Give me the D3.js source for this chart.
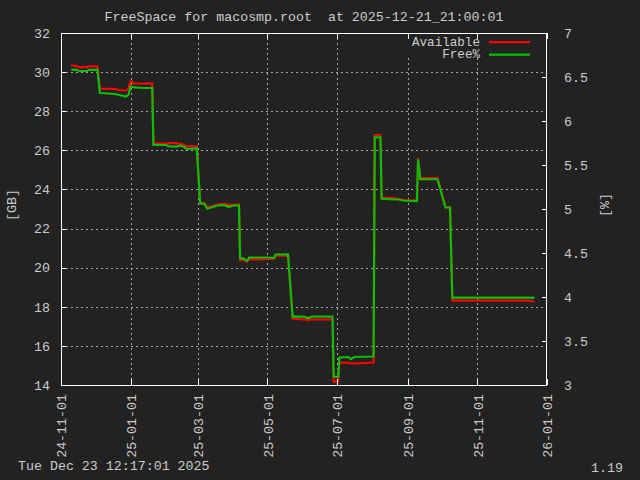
<!DOCTYPE html>
<html><head><meta charset="utf-8">
<script src="https://cdn.jsdelivr.net/npm/d3@7"></script>
<style>
html,body{margin:0;padding:0;background:#222222;}
svg{display:block;}
text{font-family:"Liberation Mono","DejaVu Sans Mono",monospace;font-size:13.3px;fill:#cccccc;white-space:pre;}
</style></head>
<body>
<script>
const titleText = "FreeSpace for macosmp.root  at 2025-12-21_21:00:01";
const footerLeft = "Tue Dec 23 12:17:01 2025";
const footerRight = "1.19";
const seriesNames = ["Available", "Free%"];
const dates = ["2024-11-10","2024-11-15","2024-11-17","2024-11-24","2024-11-25","2024-12-03","2024-12-05","2024-12-06","2024-12-18","2024-12-22","2024-12-28","2024-12-30","2025-01-01","2025-01-03","2025-01-04","2025-01-13","2025-01-20","2025-01-21","2025-02-01","2025-02-04","2025-02-10","2025-02-14","2025-02-17","2025-02-19","2025-02-28","2025-03-03","2025-03-07","2025-03-09","2025-03-13","2025-03-18","2025-03-24","2025-03-28","2025-04-01","2025-04-06","2025-04-07","2025-04-10","2025-04-13","2025-04-15","2025-05-01","2025-05-07","2025-05-08","2025-05-19","2025-05-23","2025-06-02","2025-06-06","2025-06-09","2025-06-27","2025-06-28","2025-07-02","2025-07-03","2025-07-11","2025-07-13","2025-07-16","2025-08-02","2025-08-03","2025-08-08","2025-08-09","2025-08-20","2025-08-24","2025-08-29","2025-09-04","2025-09-09","2025-09-10","2025-09-12","2025-09-27","2025-10-04","2025-10-08","2025-10-10","2025-10-12","2025-12-16","2025-12-21"];
const available = [30.34,30.31,30.26,30.26,30.29,30.29,29.21,29.16,29.14,29.08,29.06,29.14,29.52,29.47,29.42,29.41,29.41,26.36,26.35,26.37,26.37,26.33,26.27,26.20,26.20,23.33,23.31,23.08,23.13,23.23,23.26,23.20,23.23,23.23,20.39,20.39,20.32,20.42,20.44,20.47,20.62,20.62,17.40,17.35,17.32,17.35,17.35,14.17,14.17,15.14,15.15,15.10,15.10,15.15,26.78,26.78,23.58,23.56,23.51,23.46,23.43,23.46,25.59,24.58,24.58,23.10,23.10,18.31,18.32,18.31,18.27];
const freePct = [6.583,6.580,6.568,6.568,6.580,6.580,6.320,6.318,6.307,6.295,6.278,6.295,6.392,6.386,6.381,6.375,6.375,5.727,5.727,5.710,5.708,5.720,5.705,5.682,5.688,5.063,5.057,5.003,5.017,5.040,5.045,5.023,5.040,5.040,4.440,4.440,4.409,4.449,4.449,4.443,4.483,4.485,3.776,3.776,3.758,3.778,3.776,3.094,3.094,3.313,3.318,3.295,3.318,3.324,5.815,5.815,5.117,5.108,5.108,5.094,5.091,5.090,5.565,5.338,5.338,5.017,5.017,3.992,3.994,3.992,3.989];
const xTickLabels = ["24-11-01","25-01-01","25-03-01","25-05-01","25-07-01","25-09-01","25-11-01","26-01-01"];
const yTicks = [14,16,18,20,22,24,26,28,30,32];
const y2Ticks = [3,3.5,4,4.5,5,5.5,6,6.5,7];

const W = 640, H = 480;
const M = {left:61, right:547, top:33, bottom:385};
const parse = d3.timeParse("%Y-%m-%d");
const tickParse = d3.timeParse("%y-%m-%d");
const data = dates.map((d,i)=>({date:parse(d), a:available[i], p:freePct[i]}));

const svg = d3.select("body").append("svg").attr("width",W).attr("height",H);
svg.append("rect").attr("width",W).attr("height",H).attr("fill","#222222");

const x = d3.scaleTime().domain([tickParse(xTickLabels[0]), tickParse(xTickLabels[xTickLabels.length-1])]).range([M.left, M.right]);
const y = d3.scaleLinear().domain([14,32]).range([M.bottom, M.top]);
const y2 = d3.scaleLinear().domain([3,7]).range([M.bottom, M.top]);
const xTickDates = xTickLabels.map(tickParse);

// grid
const grid = svg.append("g").attr("stroke","#a8a8a8").attr("stroke-width",1).attr("stroke-dasharray","2,3").attr("shape-rendering","crispEdges");
yTicks.slice(1,-1).forEach(t=>{
  grid.append("line").attr("x1",M.left).attr("x2",M.right).attr("y1",Math.round(y(t))+0.5).attr("y2",Math.round(y(t))+0.5);
});
xTickDates.slice(1,-1).forEach(t=>{
  grid.append("line").attr("y1",M.top).attr("y2",M.bottom).attr("x1",Math.round(x(t))+0.5).attr("x2",Math.round(x(t))+0.5);
});

// legend background covering the grid
svg.append("rect").attr("x",402).attr("y",35).attr("width",140).attr("height",23).attr("fill","#222222");

// series
const lineA = d3.line().x(d=>x(d.date)).y(d=>y(d.a));
const lineP = d3.line().x(d=>x(d.date)).y(d=>y2(d.p));
svg.append("path").datum(data).attr("d",lineA).attr("fill","none").attr("stroke","#ff0000").attr("stroke-width",2.2).attr("stroke-linejoin","miter");
svg.append("path").datum(data).attr("d",lineP).attr("fill","none").attr("stroke","#00c000").attr("stroke-width",2.2).attr("stroke-linejoin","miter");

// axes: ticks inward
const axL = d3.axisLeft(y).tickValues(yTicks).tickSizeInner(-5).tickSizeOuter(0).tickPadding(11).tickFormat(d3.format("d"));
const axR = d3.axisRight(y2).tickValues(y2Ticks).tickSizeInner(-5).tickSizeOuter(0).tickPadding(17).tickFormat(d=>String(d));
const axB = d3.axisBottom(x).tickValues(xTickDates).tickSizeInner(-6).tickSizeOuter(0).tickFormat(d3.timeFormat("%y-%m-%d"));
const axT = d3.axisTop(x).tickValues(xTickDates).tickSizeInner(-6).tickSizeOuter(0).tickFormat("");

function style(g){
  g.select(".domain").remove();
  g.selectAll("line").attr("stroke","#ffffff").attr("shape-rendering","crispEdges");
  g.selectAll("text").attr("fill","#cccccc").style("font-family",'"Liberation Mono","DejaVu Sans Mono",monospace').style("font-size","13.3px");
}
svg.append("g").attr("transform",`translate(${M.left},0)`).call(axL).call(style);
svg.append("g").attr("transform",`translate(${M.right},0)`).call(axR).call(style);
svg.append("g").attr("transform",`translate(0,${M.top})`).call(axT).call(style);
const gb = svg.append("g").attr("transform",`translate(0,${M.bottom})`).call(axB).call(style);
gb.selectAll("text").attr("transform","rotate(-90)").attr("text-anchor","end").attr("x",-9).attr("y",0).attr("dy","0.35em");

// border
svg.append("rect").attr("x",M.left+0.5).attr("y",M.top+0.5).attr("width",M.right-M.left-1).attr("height",M.bottom-M.top).attr("fill","none").attr("stroke","#ffffff").attr("stroke-width",1).attr("shape-rendering","crispEdges");

// title
svg.append("text").attr("x",(M.left+M.right)/2).attr("y",16).attr("dy","0.35em").attr("text-anchor","middle").attr("xml:space","preserve").text(titleText);
// axis labels
svg.append("text").attr("transform","translate(11,205) rotate(-90)").attr("text-anchor","middle").attr("dy","0.35em").text("[GB]");
svg.append("text").attr("transform","translate(604,205) rotate(-90)").attr("text-anchor","middle").attr("dy","0.35em").text("[%]");

// legend
const legCols = ["#ff0000","#00c000"];
seriesNames.forEach((n,i)=>{
  const ly = 41.5 + i*12.5;
  svg.append("text").attr("x",480).attr("y",ly).attr("dy","0.35em").attr("text-anchor","end").style("font-size","12.6px").text(n);
  svg.append("line").attr("x1",489).attr("x2",530).attr("y1",ly+0.7).attr("y2",ly+0.7).attr("stroke",legCols[i]).attr("stroke-width",2.2);
});

// footer
svg.append("text").attr("x",18).attr("y",465).attr("dy","0.35em").text(footerLeft);
svg.append("text").attr("x",623).attr("y",467).attr("dy","0.35em").attr("text-anchor","end").text(footerRight);
</script>
</body></html>
